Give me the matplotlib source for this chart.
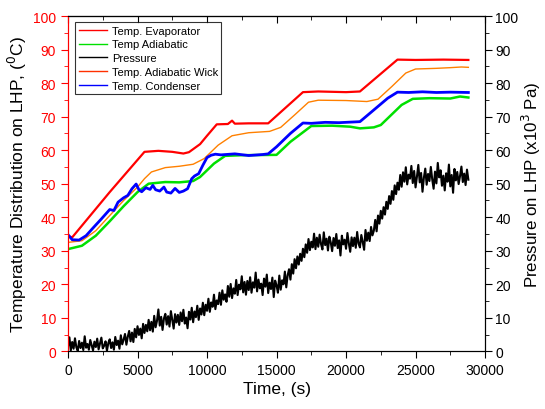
import matplotlib
matplotlib.use("Agg")
import matplotlib.pyplot as plt
from matplotlib.ticker import MultipleLocator, NullFormatter
from matplotlib.lines import Line2D

plt.rcParams['font.family'] = ['Liberation Sans', 'DejaVu Sans']

# Temp. Evaporator
t_evap = [0, 300, 3000, 5500, 6500, 7500, 8300, 8700, 9500, 10000, 10700, 11500, 11800, 12000,
          13000, 14400, 16900, 18000, 19000, 20000, 21000, 23700, 25000, 27000, 28800]
v_evap = [34.4, 34.0, 47.5, 59.5, 59.8, 59.5, 59.0, 59.4, 61.8, 64.3, 67.7, 67.8, 68.8, 67.9,
          68.0, 68.0, 77.3, 77.5, 77.4, 77.3, 77.5, 87.0, 86.9, 87.0, 86.9]

# Temp Adiabatic
t_adia = [0, 1000, 2000, 3000, 4000, 5000, 5800, 7000, 8000, 9000, 9500, 10500, 11300, 12500,
          15000, 16000, 17500, 19000, 20300, 21000, 22000, 22500, 24000, 24800, 26000, 27500, 28200, 28800]
v_adia = [30.5, 31.5, 34.5, 38.8, 43.3, 47.5, 50.0, 50.5, 50.4, 50.8, 52.0, 56.0, 58.3, 58.5,
          58.6, 62.5, 67.2, 67.3, 67.0, 66.5, 66.8, 67.5, 73.5, 75.3, 75.5, 75.4, 76.0, 75.7]

# Temp. Adiabatic Wick
t_wick = [0, 1000, 2000, 3000, 4000, 5000, 5500, 6000, 7000, 8000, 9000, 9800, 10800, 11800,
          13000, 14500, 15300, 16300, 17300, 18000, 20000, 21500, 22300, 23300, 24300, 25000,
          26500, 27500, 28300, 28800]
v_wick = [32.5, 33.0, 36.0, 40.5, 45.0, 49.0, 51.5, 53.5, 54.8, 55.2, 55.8, 57.5, 61.5, 64.3,
          65.2, 65.6, 66.8, 70.5, 74.3, 74.9, 74.8, 74.5, 75.2, 79.0, 83.0, 84.2,
          84.4, 84.6, 84.8, 84.7]

# Temp. Condenser
t_cond = [0, 300, 800, 1300, 1800, 2400, 3000, 3300, 3600, 4000, 4300, 4600, 4900, 5100, 5300,
          5600, 5900, 6100, 6300, 6600, 6900, 7100, 7400, 7700, 8000, 8300, 8600, 8900, 9100,
          9400, 9700, 10000, 10300, 10600, 11000, 12000, 13000, 14000, 14400, 15000, 16000,
          16900, 17500, 18500, 19500, 20500, 21000, 22000, 23000, 23700, 24500, 25500, 26500,
          27500, 28800]
v_cond = [34.8, 33.3, 33.2, 34.5, 36.8, 39.5, 42.3, 42.0, 44.5, 45.8, 46.5, 48.5, 49.9, 48.2, 47.6,
          48.8, 48.3, 49.5, 48.2, 47.8, 49.0, 47.5, 47.2, 48.6, 47.4, 47.8, 48.5, 51.5, 52.3,
          53.0, 55.5, 57.8, 58.5, 58.8, 58.6, 58.9, 58.4, 58.7, 58.9, 61.0, 65.0,
          68.1, 68.0, 68.3, 68.2, 68.4, 68.5, 72.0, 75.5, 77.3, 77.2, 77.4, 77.2,
          77.3, 77.2]

# Pressure (x10^3 Pa), sampled every 100 s
p_step = 100
pressure = [
    1.5, 4.2, 0.3, 2.8, 0.8, 3.9, 1.2, 0.2, 3.1, 1.0,
    2.6, 0.4, 4.5, 1.1, 2.2, 0.5, 3.4, 1.8, 0.3, 2.9,
    1.3, 3.8, 0.6, 2.4, 4.1, 0.9, 1.7, 3.0, 0.2, 2.5,
    3.6, 1.0, 2.7, 0.5, 4.3, 1.9, 3.2, 0.8, 4.8, 2.1,
    3.5, 5.2, 2.0, 4.4, 6.1, 3.0, 5.6, 2.8, 6.7, 4.2,
    7.5, 4.9, 6.8, 3.9, 8.2, 5.5, 7.9, 6.0, 9.4, 6.3,
    8.8, 5.9, 10.6, 7.2, 9.1, 12.5, 7.7, 10.3, 6.4, 9.8,
    11.2, 8.0, 10.5, 7.4, 12.0, 9.3, 6.8, 11.1, 8.6, 10.9,
    7.9, 11.6, 9.0, 12.4, 8.3, 10.1, 6.9, 11.8, 9.5, 13.0,
    8.7, 11.9, 10.2, 13.6, 9.4, 12.8, 11.0, 14.5, 10.8, 13.9,
    12.1, 15.7, 11.8, 14.6, 13.3, 16.9, 12.6, 15.2, 14.1, 17.5,
    13.9, 18.2, 15.4, 17.0, 14.8, 19.5, 16.3, 20.1, 15.9, 18.8,
    17.2, 21.3, 16.8, 19.9, 18.5, 22.4, 17.6, 20.7, 16.9, 21.0,
    18.3, 22.1, 17.5, 20.6, 19.0, 23.5, 17.9, 21.4, 18.8, 20.2,
    16.8, 21.7, 19.3, 22.9, 17.4, 20.5, 18.6, 22.0, 16.2, 21.1,
    19.7, 17.5, 22.6, 18.4, 21.2, 20.0, 23.8, 19.1, 22.7, 24.5,
    21.4, 26.0, 23.2, 27.5, 24.8, 28.3, 25.9, 29.1, 27.0, 30.6,
    28.1, 31.9, 29.4, 33.5, 30.2, 32.7, 31.0, 35.1, 30.5, 33.9,
    31.2, 34.8, 32.0, 30.4, 35.5, 31.7, 33.6, 30.1, 34.2, 32.5,
    29.9, 33.8, 31.5, 35.0, 30.8, 33.1, 28.6, 34.5, 31.9, 33.3,
    30.6, 35.3, 32.2, 29.7, 34.0, 31.4, 33.9, 30.9, 35.6, 32.1,
    31.0, 34.7, 32.6, 30.3, 36.2, 33.0, 35.4, 32.9, 37.1, 34.6,
    36.0, 39.2, 35.8, 40.5, 38.1, 41.9, 39.6, 43.0, 40.8, 44.6,
    42.5, 46.3, 44.0, 47.8, 45.2, 49.5, 46.9, 50.3, 48.2, 52.6,
    49.1, 53.4, 50.6, 54.9, 49.8, 52.7, 51.5, 55.3, 50.2, 53.8,
    48.9, 52.1, 55.6, 50.4, 53.2, 47.6, 51.8, 54.5, 49.7, 52.9,
    50.8, 55.0, 51.3, 48.5, 53.6, 50.1, 56.2, 51.9, 54.0, 49.4,
    52.4, 48.0, 53.1, 50.6, 55.7, 49.2, 52.6, 47.3, 54.4, 51.0,
    53.5, 49.9, 52.3, 55.1, 50.5, 53.0, 49.6, 54.2, 51.2,
]
t_pres = [i * p_step for i in range(len(pressure))]

labels = ["Temp. Evaporator", "Temp Adiabatic", "Pressure", "Temp. Adiabatic Wick", "Temp. Condenser"]

fig = plt.figure(figsize=(5.45, 4.10), dpi=100)
ax = fig.add_axes([0.1248, 0.1405, 0.7652, 0.818])
ax2 = ax.twinx()

ax.plot(t_evap, v_evap, color='#ff0000', lw=1.6, zorder=3)
ax.plot(t_adia, v_adia, color='#00e000', lw=1.8, zorder=3)
ax.plot(t_wick, v_wick, color='#ff8000', lw=1.0, zorder=3)
ax.plot(t_cond, v_cond, color='#0000ff', lw=2.0, zorder=4)
ax2.plot(t_pres, pressure, color='black', lw=1.5)

ax.set_xlim(0, 30000)
ax.set_ylim(0, 100)
ax2.set_ylim(0, 100)

ax.xaxis.set_major_locator(MultipleLocator(5000))
ax.xaxis.set_minor_locator(MultipleLocator(2500))
ax.yaxis.set_major_locator(MultipleLocator(10))
ax.yaxis.set_minor_locator(MultipleLocator(5))
ax2.yaxis.set_major_locator(MultipleLocator(10))
ax2.yaxis.set_minor_locator(MultipleLocator(5))

ax.tick_params(axis='x', which='both', direction='out', labelsize=10, colors='black')
ax.tick_params(axis='x', which='major', length=5)
ax.tick_params(axis='x', which='minor', length=3)
ax.tick_params(axis='y', which='both', colors='#ff0000', labelsize=10)
ax.tick_params(axis='y', which='major', length=5)
ax.tick_params(axis='y', which='minor', length=3)
ax2.tick_params(axis='y', which='both', labelsize=10, pad=2.5)
ax2.tick_params(axis='y', which='major', length=5)
ax2.tick_params(axis='y', which='minor', length=3)
ax.spines['left'].set_color('#ff0000')
ax2.spines['left'].set_color('#ff0000')

top = ax.secondary_xaxis('top')
top.xaxis.set_major_locator(MultipleLocator(5000))
top.xaxis.set_minor_locator(MultipleLocator(2500))
top.xaxis.set_major_formatter(NullFormatter())
top.tick_params(which='both', direction='in')
top.tick_params(which='major', length=5)
top.tick_params(which='minor', length=3)

ax.set_xlabel("Time, (s)", fontsize=12.5, labelpad=3)
ax.set_ylabel("Temperature Distribution on LHP, ($^0$C)", fontsize=12.5, color='black', labelpad=3)
ax2.set_ylabel("Pressure on LHP (x10$^3$ Pa)", fontsize=12.2, labelpad=1)

handles = [Line2D([], [], color=c, lw=1.0) for c in ['#ff0000', '#00e000', 'black', '#ff3000', '#0000ff']]
leg = ax2.legend(handles, labels, loc='upper left', bbox_to_anchor=(0.012, 0.988), fontsize=8,
                 frameon=True, fancybox=False, edgecolor='black', handlelength=2.6,
                 borderpad=0.3, labelspacing=0.35, handletextpad=0.4, borderaxespad=0.2)
leg.get_frame().set_linewidth(0.8)

fig.savefig("out.png", dpi=100)
